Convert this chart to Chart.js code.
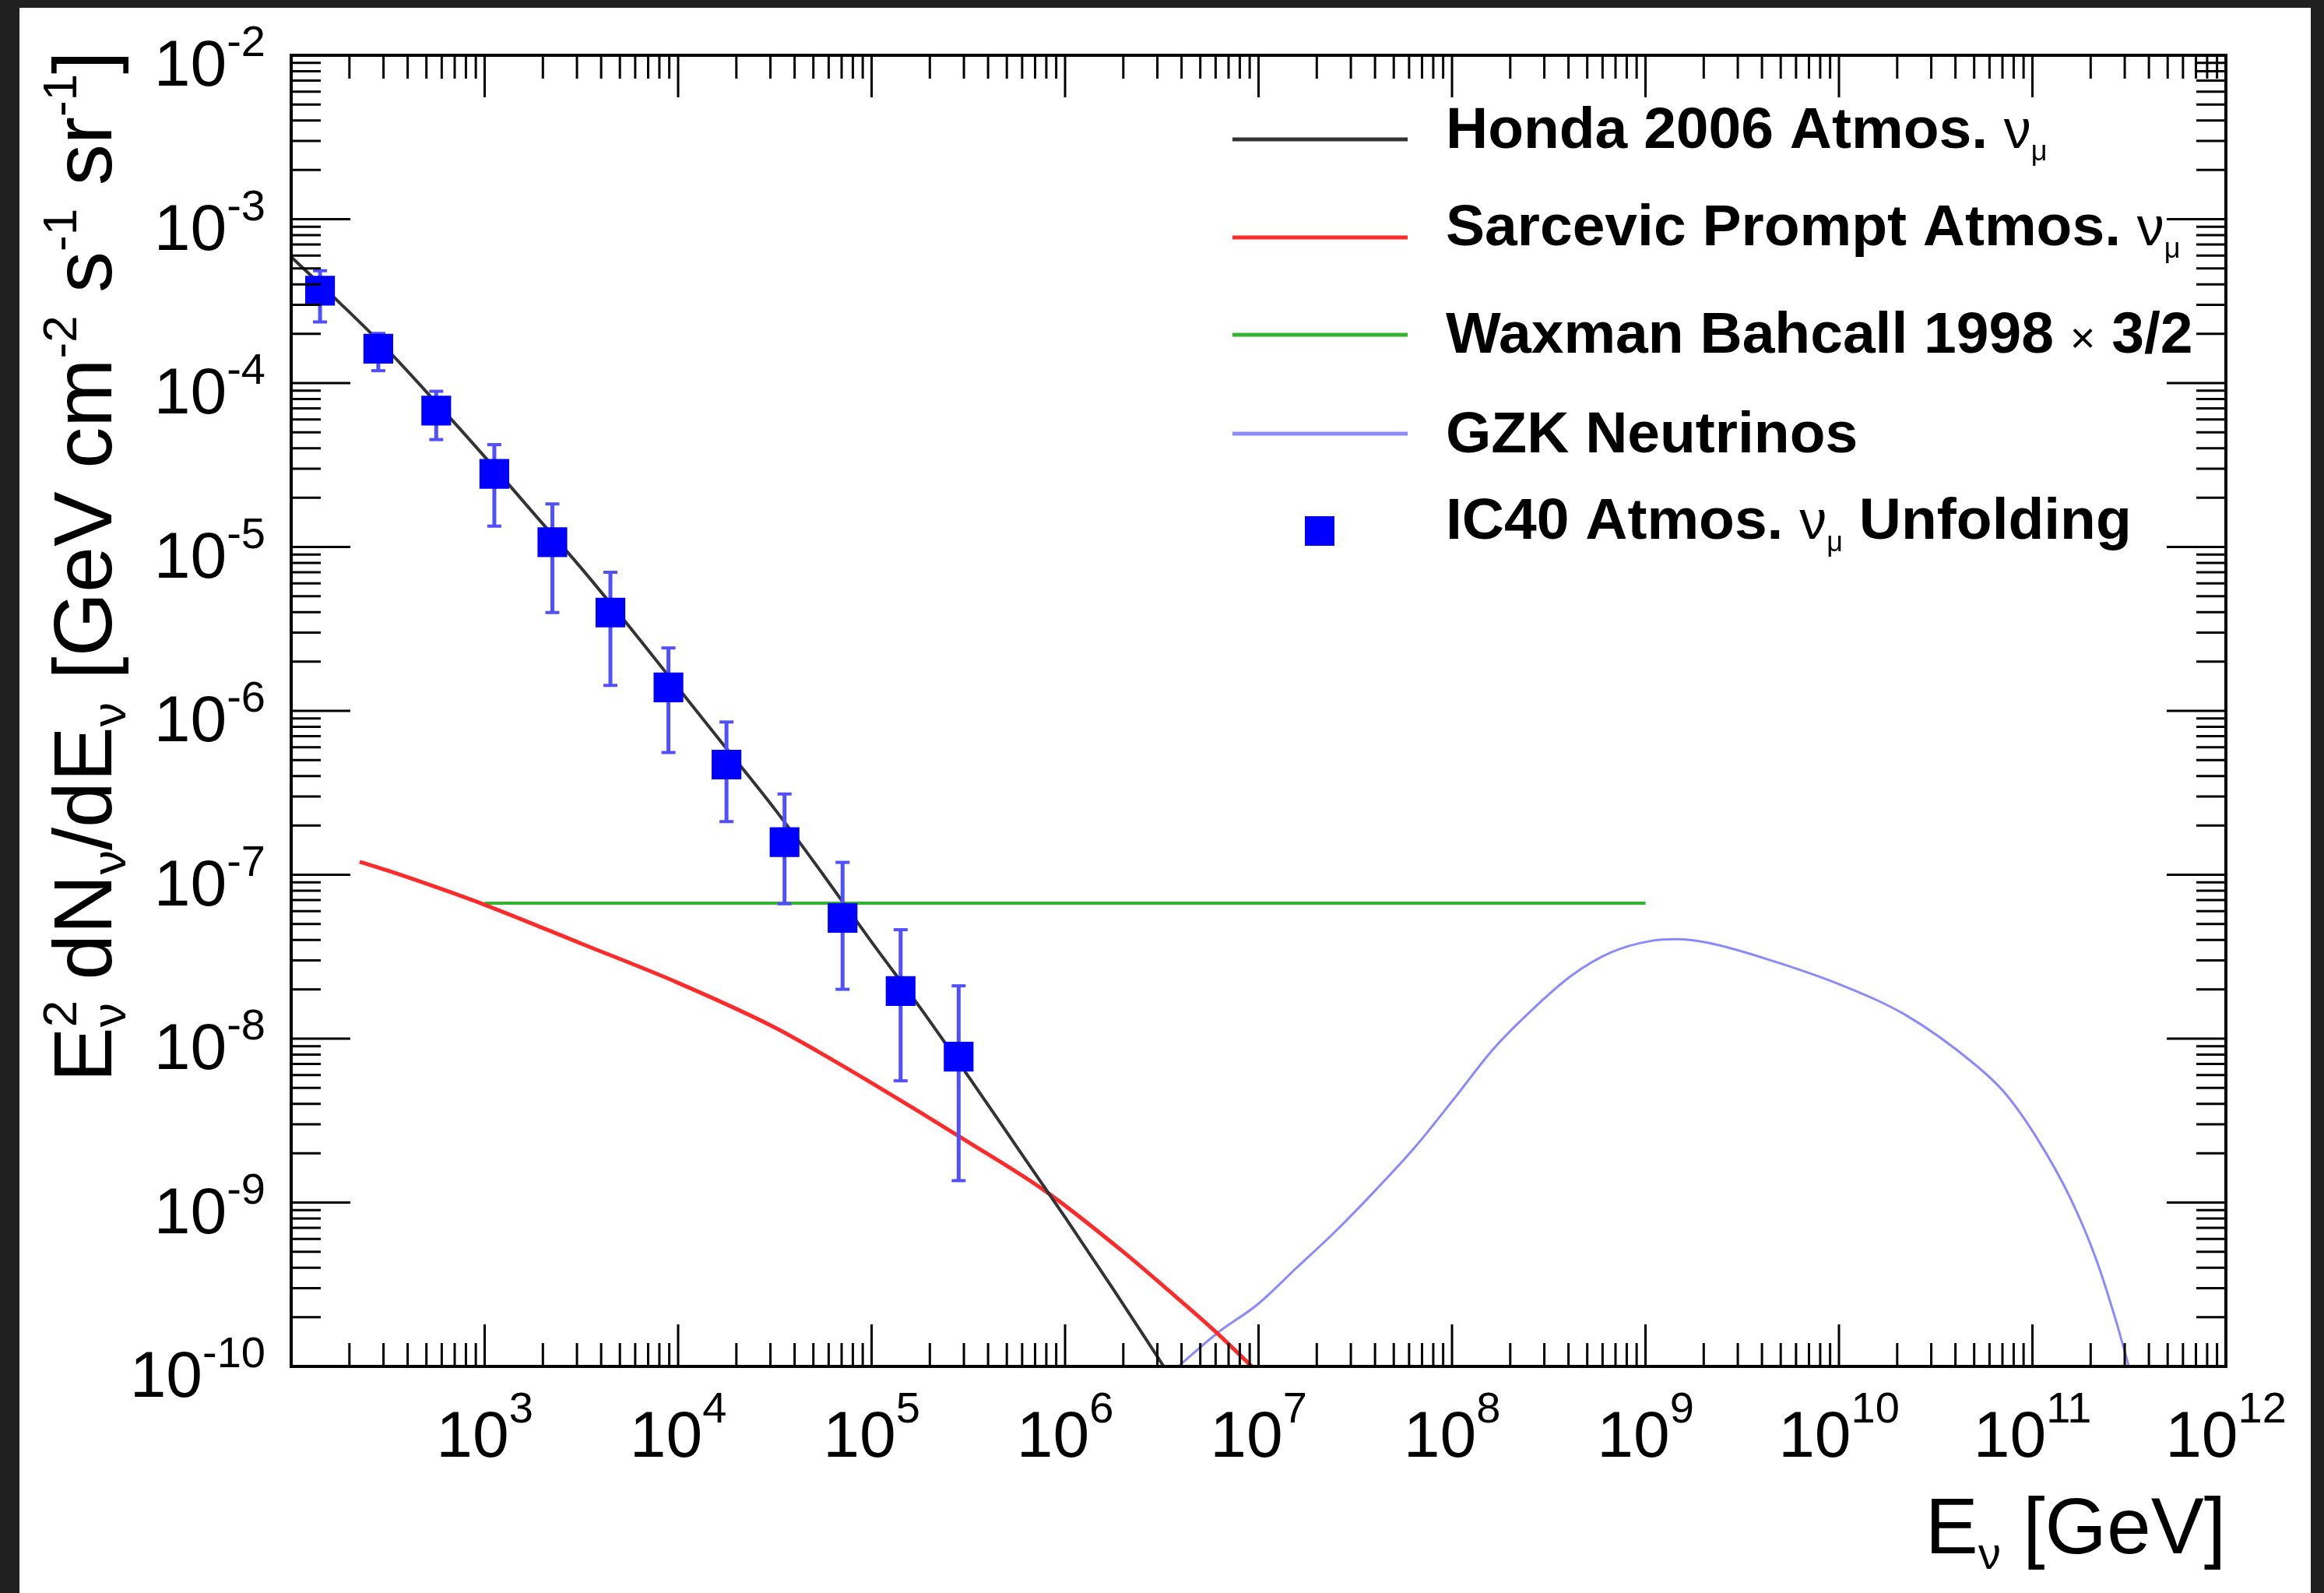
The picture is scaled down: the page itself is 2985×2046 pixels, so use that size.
<!DOCTYPE html>
<html>
<head>
    <title>IC40 Atmospheric Neutrino Unfolding</title>
    <script src="https://cdn.jsdelivr.net/npm/chart.js"></script>
    <style>
        html, body { margin: 0; padding: 0; background: #202020; overflow: hidden; }
        #wrap { width: 2985px; height: 2046px; }
    </style>
</head>
<body>
    <div id="wrap"><canvas id="spectrum"></canvas></div>

    <script>
        // IC40 unfolded spectrum, E [GeV] vs E^2 dN/dE [GeV cm^-2 s^-1 sr^-1]
        const unfoldE    = [141, 282, 562, 1122, 2239, 4467, 8913, 17783, 35481, 70795, 141254, 281838];
        const unfoldFlux = [3.66e-4, 1.62e-4, 6.79e-5, 2.79e-5, 1.07e-5, 3.98e-6, 1.39e-6, 4.70e-7, 1.58e-7, 5.45e-8, 1.95e-8, 7.76e-9];
        const unfoldLow  = [2.36e-4, 1.19e-4, 4.52e-5, 1.34e-5, 3.98e-6, 1.43e-6, 5.57e-7, 2.11e-7, 6.65e-8, 2.0e-8, 5.53e-9, 1.36e-9];
        const unfoldHigh = [4.85e-4, 2.01e-4, 8.91e-5, 4.21e-5, 1.83e-5, 7.01e-6, 2.42e-6, 8.55e-7, 3.11e-7, 1.19e-7, 4.62e-8, 2.10e-8];

        // Honda 2006 conventional atmospheric nu_mu
        const hondaE    = [1e2, 178, 316, 562, 1e3, 1778, 3162, 5623, 1e4, 17783, 31623, 56234, 1e5, 177828, 316228, 562341, 1e6, 1.778e6, 3.236e6];
        const hondaFlux = [5.89e-4, 3.09e-4, 1.585e-4, 7.59e-5, 3.55e-5, 1.62e-5, 7.41e-6, 3.24e-6, 1.38e-6, 5.89e-7, 2.51e-7, 1.0e-7, 3.89e-8, 1.55e-8, 5.89e-9, 2.19e-9, 8.13e-10, 2.95e-10, 1.0e-10];

        // Sarcevic prompt atmospheric nu_mu
        const sarcevicE    = [226, 316, 562, 1e3, 3162, 1e4, 31623, 52481, 1e5, 316228, 794328, 1.995e6, 3.40e6, 5.89e6, 9.23e6];
        const sarcevicFlux = [1.20e-7, 1.06e-7, 8.40e-8, 6.56e-8, 3.80e-8, 2.19e-8, 1.17e-8, 8.39e-9, 5.37e-9, 2.34e-9, 1.17e-9, 5.01e-10, 2.93e-10, 1.66e-10, 1.0e-10];

        // Waxman-Bahcall 1998 bound x 3/2
        const wbE    = [1e3, 1e9];
        const wbFlux = [6.7e-8, 6.7e-8];

        // GZK neutrinos
        const gzkE    = [3.85e6, 6.17e6, 9.84e6, 1.57e7, 2.51e7, 4.00e7, 6.40e7, 1.02e8, 1.63e8, 2.61e8, 4.16e8, 6.64e8,
                         1.06e9, 1.45e9, 2.14e9, 4.67e9, 1.02e10, 2.22e10, 4.84e10, 7.16e10, 1.06e11, 1.56e11, 2.13e11, 2.70e11, 3.15e11];
        const gzkFlux = [1.0e-10, 1.61e-10, 2.38e-10, 3.99e-10, 6.71e-10, 1.18e-9, 2.16e-9, 4.27e-9, 8.61e-9, 1.51e-8, 2.43e-8, 3.36e-8,
                         3.94e-8, 4.04e-8, 3.83e-8, 2.95e-8, 2.13e-8, 1.39e-8, 7.24e-9, 4.70e-9, 2.45e-9, 1.08e-9, 4.54e-10, 1.91e-10, 1.0e-10];

        // labelled decades
        const xTickExps = [3, 4, 5, 6, 7, 8, 9, 10, 11, 12];
        const yTickExps = [-2, -3, -4, -5, -6, -7, -8, -9, -10];

        const FONT = '"Liberation Sans", Arial, sans-serif';
        const pairs = (xs, ys) => xs.map((x, i) => ({ x: x, y: ys[i] }));

        // each error bar is low -> high, then a gap
        const errorBars = unfoldE.flatMap((e, i) => [
            { x: e, y: unfoldLow[i] }, { x: e, y: unfoldHigh[i] }, { x: e, y: null }
        ]);

        // text with sub/superscripts, parts = [{t, font, dy, stack}]
        function drawRich(ctx, parts, x, y, align) {
            let total = 0;
            parts.forEach(p => {
                ctx.font = p.font;
                p.w = ctx.measureText(p.t).width;
                if (!p.stack) total += p.w;
            });
            let cx = align === 'right' ? x - total : align === 'center' ? x - total / 2 : x;
            parts.forEach(p => {
                ctx.font = p.font;
                ctx.fillText(p.t, cx, y + (p.dy || 0));
                if (!p.stack) cx += p.w;
            });
        }

        const rootFrame = {
            id: 'rootFrame',
            beforeDraw(chart) {
                const ctx = chart.ctx;
                ctx.save();
                ctx.fillStyle = '#202020';
                ctx.fillRect(0, 0, chart.width, chart.height);
                ctx.fillStyle = '#ffffff';
                ctx.fillRect(25, 10, 2943, 2036);
                ctx.restore();
            },
            afterDraw(chart) {
                const ctx = chart.ctx;
                const a = chart.chartArea;
                const xs = chart.scales.x, ys = chart.scales.y;
                ctx.save();
                ctx.strokeStyle = '#000';
                ctx.fillStyle = '#000';

                // ticks on all four sides, pointing inward
                ctx.lineWidth = 3;
                ctx.beginPath();
                for (let k = 2; k < 12; k++) {
                    for (let m = 1; m < 10; m++) {
                        const px = xs.getPixelForValue(m * Math.pow(10, k));
                        if (px <= a.left + 1) continue;
                        const len = m === 1 ? 54 : 30;
                        ctx.moveTo(px, a.bottom); ctx.lineTo(px, a.bottom - len);
                        ctx.moveTo(px, a.top); ctx.lineTo(px, a.top + len);
                    }
                }
                for (let k = -10; k < -2; k++) {
                    for (let m = 1; m < 10; m++) {
                        const py = ys.getPixelForValue(m * Math.pow(10, k));
                        if (py >= a.bottom - 1) continue;
                        const len = m === 1 ? 76 : 38;
                        ctx.moveTo(a.left, py); ctx.lineTo(a.left + len, py);
                        ctx.moveTo(a.right, py); ctx.lineTo(a.right - len, py);
                    }
                }
                ctx.stroke();

                ctx.lineWidth = 4;
                ctx.strokeRect(a.left, a.top, a.right - a.left, a.bottom - a.top);

                // tick labels
                const big = '84px ' + FONT, sup = '56px ' + FONT;
                ctx.textBaseline = 'alphabetic';
                yTickExps.forEach(exp => {
                    const py = ys.getPixelForValue(Math.pow(10, exp));
                    drawRich(ctx, [{ t: '10', font: big }, { t: String(exp), font: sup, dy: -38 }], 341, py + 39, 'right');
                });
                xTickExps.forEach(exp => {
                    const px = xs.getPixelForValue(Math.pow(10, exp));
                    drawRich(ctx, [{ t: '10', font: big }, { t: String(exp), font: sup, dy: -44 }], px, a.bottom + 116, 'center');
                });

                // axis titles
                const tBig = '102px ' + FONT, tSm = '58px ' + FONT;
                drawRich(ctx, [
                    { t: 'E', font: tBig }, { t: 'ν', font: tSm, dy: 20 }, { t: ' [GeV]', font: tBig }
                ], a.right, 1995, 'right');

                const yBig = '106px ' + FONT, ySm = '62px ' + FONT;
                ctx.save();
                ctx.translate(143, 1390);
                ctx.rotate(-Math.PI / 2);
                drawRich(ctx, [
                    { t: 'E', font: yBig }, { t: '2', font: ySm, dy: -45, stack: true }, { t: 'ν', font: ySm, dy: 18 },
                    { t: ' dN', font: yBig }, { t: 'ν', font: ySm, dy: 18 },
                    { t: '/dE', font: yBig }, { t: 'ν', font: ySm, dy: 18 },
                    { t: ' [GeV cm', font: yBig }, { t: '-2', font: ySm, dy: -45 },
                    { t: ' s', font: yBig }, { t: '-1', font: ySm, dy: -45 },
                    { t: ' sr', font: yBig }, { t: '-1', font: ySm, dy: -45 },
                    { t: ']', font: yBig }
                ], 0, 0, 'left');
                ctx.restore();

                // legend
                const lb = 'bold 75px ' + FONT, nu = '70px ' + FONT, mu = '36px ' + FONT;
                const tx = 1857;
                const numu = [{ t: 'ν', font: nu }, { t: 'μ', font: mu, dy: 16 }];
                const entries = [
                    { y: 179, base: 190, color: '#333333', parts: [{ t: 'Honda 2006 Atmos. ', font: lb }].concat(numu) },
                    { y: 305, base: 315, color: '#ff2a2a', parts: [{ t: 'Sarcevic Prompt Atmos. ', font: lb }].concat(numu) },
                    { y: 430, base: 453, color: '#33b233', parts: [{ t: 'Waxman Bahcall 1998 ', font: lb }, { t: '×', font: '56px ' + FONT }, { t: ' 3/2', font: lb }] },
                    { y: 557, base: 581, color: '#8a8aff', parts: [{ t: 'GZK Neutrinos', font: lb }] },
                    { y: 682, base: 692, color: null, parts: [{ t: 'IC40 Atmos. ', font: lb }].concat(numu, [{ t: ' Unfolding', font: lb }]) }
                ];
                entries.forEach(en => {
                    if (en.color) {
                        ctx.strokeStyle = en.color;
                        ctx.lineWidth = 5;
                        ctx.beginPath();
                        ctx.moveTo(1583, en.y); ctx.lineTo(1808, en.y);
                        ctx.stroke();
                    } else {
                        ctx.fillStyle = '#0000ff';
                        ctx.fillRect(1695 - 19, en.y - 19, 38, 38);
                    }
                    ctx.fillStyle = '#000';
                    drawRich(ctx, en.parts, tx, en.base, 'left');
                });
                ctx.restore();
            }
        };

        new Chart(document.getElementById('spectrum'), {
            type: 'line',
            data: {
                datasets: [
                    { label: 'IC40 Atmos. νμ Unfolding', data: pairs(unfoldE, unfoldFlux), showLine: false, pointStyle: 'rect',
                      pointRadius: 27, backgroundColor: '#0000ff', borderWidth: 0, order: 0 },
                    { label: 'IC40 errors', data: errorBars, spanGaps: false, borderColor: '#5050ff',
                      borderWidth: 5, pointStyle: 'line', pointRadius: 9, pointBorderWidth: 4,
                      pointBorderColor: '#5050ff', order: 1 },
                    { label: 'Honda 2006 Atmos. νμ', data: pairs(hondaE, hondaFlux), borderColor: '#333333',
                      borderWidth: 4, pointRadius: 0, cubicInterpolationMode: 'monotone', order: 2 },
                    { label: 'Sarcevic Prompt Atmos. νμ', data: pairs(sarcevicE, sarcevicFlux),
                      borderColor: '#ff2a2a', borderWidth: 5, pointRadius: 0, cubicInterpolationMode: 'monotone', order: 3 },
                    { label: 'Waxman Bahcall 1998 × 3/2', data: pairs(wbE, wbFlux), borderColor: '#33b233',
                      borderWidth: 4, pointRadius: 0, order: 4 },
                    { label: 'GZK Neutrinos', data: pairs(gzkE, gzkFlux), borderColor: '#8a8aff',
                      borderWidth: 3, pointRadius: 0, cubicInterpolationMode: 'monotone', order: 5 }
                ]
            },
            options: {
                responsive: true,
                maintainAspectRatio: false,
                animation: false,
                layout: { padding: { left: 374, top: 71, right: 126, bottom: 291 } },
                plugins: { legend: { display: false }, tooltip: { enabled: false } },
                scales: {
                    x: { type: 'logarithmic', min: 1e2, max: 1e12, display: false },
                    y: { type: 'logarithmic', min: 1e-10, max: 1e-2, display: false }
                }
            },
            plugins: [rootFrame]
        });
    </script>
</body>
</html>
